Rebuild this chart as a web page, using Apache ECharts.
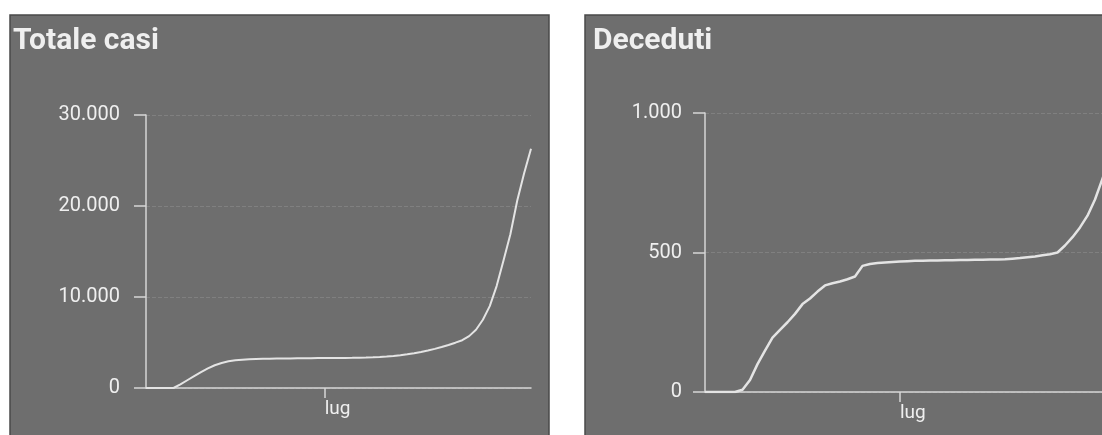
<!DOCTYPE html>
<html>
<head>
<meta charset="utf-8">
<script src="https://cdn.jsdelivr.net/npm/echarts@6/dist/echarts.min.js"></script>
<style>
  html, body { margin: 0; padding: 0; background: #ffffff; overflow: hidden; width: 1102px; height: 435px; }
  #chart { width: 1130px; height: 435px; }
</style>
</head>
<body>
<div id="chart"></div>
<script>
// Categories: daily dates (June 5 -> July 31)
const days = [
  "06-05","06-06","06-07","06-08","06-09","06-10","06-11","06-12","06-13","06-14",
  "06-15","06-16","06-17","06-18","06-19","06-20","06-21","06-22","06-23","06-24",
  "06-25","06-26","06-27","06-28","06-29","06-30","07-01","07-02","07-03","07-04",
  "07-05","07-06","07-07","07-08","07-09","07-10","07-11","07-12","07-13","07-14",
  "07-15","07-16","07-17","07-18","07-19","07-20","07-21","07-22","07-23","07-24",
  "07-25","07-26","07-27","07-28","07-29","07-30","07-31"
];
const monthTickDay = "07-01";
const monthTickLabel = "lug";

// Totale casi
const totaleCasi = [
  0,0,0,0,0,400,850,1300,1750,2150,
  2500,2750,2930,3050,3110,3160,3190,3210,3220,3230,
  3240,3250,3260,3270,3280,3285,3290,3295,3300,3310,
  3320,3335,3350,3370,3400,3450,3520,3600,3700,3820,
  3960,4120,4300,4500,4720,4980,5250,5700,6400,7500,
  9000,11200,14000,16900,20600,23600,26300
];

// Deceduti
const deceduti = [
  0,0,0,0,0,8,43,100,148,195,
  223,250,280,315,335,360,382,390,396,404,
  414,452,459,462,464,466,468,469,470,470,
  471,471,472,472,473,473,474,474,475,475,
  476,478,480,483,486,490,494,500,525,555,
  590,632,690,765,840,900,950
];

// Axis ticks
const casiTicks = { min: 0, max: 30000, interval: 10000 };
const decedutiTicks = { min: 0, max: 1000, interval: 500 };

const titles = ["Totale casi", "Deceduti"];

const panelGray = '#6e6e6e';
const textCol = '#efefef';
const axisCol = '#d6d6d6';
const lineCol = '#e4e4e4';
const FONT = 'Roboto, "Noto Sans", sans-serif';

function itFmt(v) {
  return String(v).replace(/\B(?=(\d{3})+(?!\d))/g, '.');
}

function xAxisFor(gridIndex) {
  return {
    type: 'category',
    gridIndex: gridIndex,
    data: days,
    boundaryGap: false,
    axisLine: { show: true, lineStyle: { color: axisCol, width: 1.5 } },
    axisTick: {
      show: true,
      length: 10,
      lineStyle: { color: axisCol, width: 1.5 },
      interval: function (i, v) { return v === monthTickDay; }
    },
    axisLabel: {
      show: true,
      color: textCol,
      fontFamily: FONT,
      fontSize: 19,
      margin: 12,
      align: 'left',
      interval: function (i, v) { return v === monthTickDay; },
      formatter: function (v) { return v === monthTickDay ? monthTickLabel : ''; }
    },
    splitLine: { show: false }
  };
}

function yAxisFor(gridIndex, ticks, margin) {
  return {
    type: 'value',
    gridIndex: gridIndex,
    min: ticks.min,
    max: ticks.max,
    interval: ticks.interval,
    axisLine: { show: true, lineStyle: { color: axisCol, width: 1.5 } },
    axisTick: { show: true, length: 12, lineStyle: { color: axisCol, width: 1.5 } },
    axisLabel: {
      color: textCol,
      fontFamily: FONT,
      fontSize: 20,
      margin: margin,
      formatter: itFmt
    },
    splitLine: { show: true, lineStyle: { color: 'rgba(255,255,255,0.13)', type: 'dashed', width: 1 } }
  };
}

const chart = echarts.init(document.getElementById('chart'), null, { renderer: 'canvas' });

chart.setOption({
  backgroundColor: '#ffffff',
  animation: false,
  graphic: {
    elements: [
      { type: 'rect', z: -10, shape: { x: 10, y: 15, width: 539, height: 430 },
        style: { fill: panelGray, stroke: '#4a4a4a', lineWidth: 1.5 } },
      { type: 'rect', z: -10, shape: { x: 585, y: 15, width: 560, height: 430 },
        style: { fill: panelGray, stroke: '#4a4a4a', lineWidth: 1.5 } },
      { type: 'text', z: 100, x: 13, y: 41,
        style: { text: titles[0], fill: textCol, font: 'bold 30px ' + FONT, textVerticalAlign: 'middle' } },
      { type: 'text', z: 100, x: 593, y: 41,
        style: { text: titles[1], fill: textCol, font: 'bold 30px ' + FONT, textVerticalAlign: 'middle' } }
    ]
  },
  grid: [
    { left: 146, top: 115, width: 385, bottom: 47, containLabel: false },
    { left: 705, top: 113, width: 420, bottom: 43, containLabel: false }
  ],
  xAxis: [xAxisFor(0), xAxisFor(1)],
  yAxis: [yAxisFor(0, casiTicks, 26), yAxisFor(1, decedutiTicks, 23)],
  series: [
    {
      type: 'line', xAxisIndex: 0, yAxisIndex: 0, data: totaleCasi,
      showSymbol: false, smooth: false,
      lineStyle: { color: lineCol, width: 2 }, z: 5
    },
    {
      type: 'line', xAxisIndex: 1, yAxisIndex: 1, data: deceduti,
      showSymbol: false, smooth: false,
      lineStyle: { color: lineCol, width: 2.5 }, z: 5
    }
  ]
});
</script>
</body>
</html>
